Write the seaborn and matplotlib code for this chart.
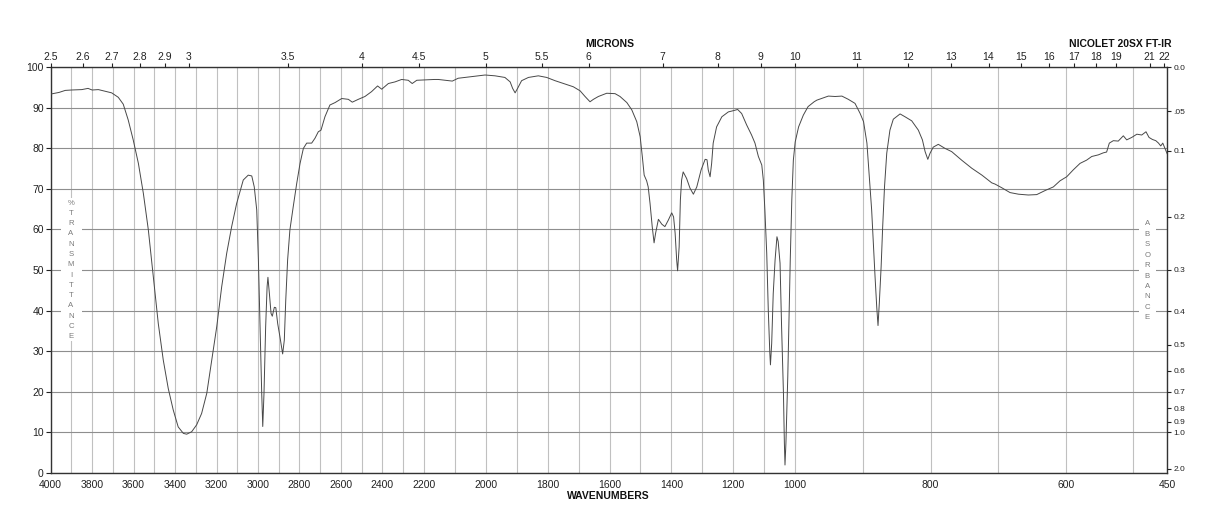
import numpy as np
import pandas as pd
import matplotlib
matplotlib.use("Agg")
import matplotlib.pyplot as plt
from matplotlib.ticker import FixedLocator
from matplotlib.patches import Rectangle
import seaborn as sns

# ---------------- data ----------------
wavenumbers = [
    4000, 3960, 3930, 3900, 3850, 3820, 3800, 3770, 3746, 3706, 3674, 3650, 3626, 3602,
    3577, 3553, 3529, 3505, 3481, 3457, 3433, 3409, 3385, 3360, 3344, 3320, 3296, 3272,
    3247, 3223, 3199, 3175, 3151, 3127, 3103, 3071, 3047, 3030, 3018, 3006, 2998, 2990,
    2982, 2977, 2971, 2963, 2956, 2952, 2945, 2937, 2931, 2921, 2914, 2905, 2894, 2881,
    2873, 2866, 2857, 2846, 2830, 2813, 2797, 2781, 2765, 2741, 2725, 2709, 2696, 2677,
    2653, 2628, 2596, 2564, 2545, 2516, 2484, 2452, 2423, 2403, 2371, 2339, 2307, 2275,
    2256, 2234, 2196, 2166, 2153, 2108, 2089, 2045, 2002, 1970, 1938, 1921, 1913, 1905,
    1897, 1884, 1862, 1830, 1803, 1776, 1744, 1717, 1695, 1679, 1663, 1652, 1636, 1609,
    1582, 1566, 1544, 1528, 1512, 1501, 1494, 1488, 1480, 1475, 1469, 1462, 1456, 1451,
    1442, 1431, 1421, 1410, 1399, 1393, 1388, 1383, 1380, 1375, 1371, 1367, 1362, 1351,
    1340, 1329, 1318, 1304, 1291, 1285, 1281, 1275, 1270, 1265, 1254, 1237, 1216, 1200,
    1186, 1173, 1157, 1141, 1130, 1119, 1108, 1103, 1098, 1092, 1087, 1082, 1080, 1076,
    1071, 1065, 1059, 1055, 1049, 1044, 1038, 1035, 1033, 1030, 1024, 1020, 1016, 1011,
    1006, 1000, 995, 988, 981, 972, 968, 951, 941, 931, 921.5, 911.6, 904, 899, 894,
    890.5, 887, 884.5, 882, 879.5, 877.6, 875.7, 873, 870.7, 868, 864.7, 860, 855, 845,
    837.7, 827.8, 818, 812, 808, 804, 800.7, 796, 788.5, 778.6, 768.7, 754, 739, 724,
    709.5, 704.7, 694.8, 682.5, 670, 655.4, 643, 630.7, 618.4, 608.6, 598.7, 589, 579,
    569.3, 561.7, 552, 544.6, 539.7, 535.7, 529.8, 522.5, 515, 510, 502.6, 495, 487.8,
    481.5, 477, 472, 467, 463, 459.7, 456.7, 454.2, 450,
]
transmittance = [
    93.4, 93.8, 94.3, 94.4, 94.5, 94.8, 94.4, 94.5, 94.2, 93.7, 92.6, 90.9, 87.0, 82.1,
    76.3, 68.9, 59.9, 48.4, 36.8, 27.8, 20.8, 15.5, 11.3, 9.7, 9.5, 10.1, 11.8, 14.6,
    19.6, 27.8, 36.0, 45.9, 54.1, 60.7, 66.4, 72.2, 73.4, 73.2, 70.5, 64.8, 52.5, 36.0,
    19.6, 11.4, 19.6, 36.0, 45.9, 48.2, 44.2, 39.3, 38.6, 40.8, 40.7, 36.8, 33.5, 29.3,
    32.7, 42.6, 52.5, 59.9, 65.6, 71.4, 76.3, 80.0, 81.3, 81.3, 82.5, 84.1, 84.5, 87.8,
    90.7, 91.3, 92.3, 92.1, 91.4, 92.1, 92.8, 94.0, 95.4, 94.6, 96.0, 96.4, 97.0, 96.8,
    96.0, 96.8, 96.9, 97.0, 97.0, 96.6, 97.3, 97.7, 98.1, 97.9, 97.5, 96.4, 94.8, 93.7,
    94.8, 96.7, 97.5, 97.9, 97.5, 96.7, 95.9, 95.2, 94.2, 92.8, 91.5, 92.1, 92.8, 93.6,
    93.5, 92.8, 91.3, 89.5, 86.6, 82.9, 78.0, 73.4, 72.0, 70.5, 66.4, 60.7, 56.7, 59.1,
    62.5, 61.3, 60.7, 62.3, 64.1, 63.1, 59.1, 52.5, 49.8, 55.7, 67.3, 72.2, 74.2, 72.6,
    70.2, 68.7, 70.5, 74.7, 77.3, 77.2, 74.7, 73.0, 76.3, 81.3, 85.3, 87.8, 89.0, 89.3,
    89.6, 88.6, 85.8, 83.3, 81.3, 78.0, 75.9, 72.2, 64.8, 54.1, 40.1, 29.5, 26.6, 31.9,
    44.2, 52.5, 58.2, 57.0, 51.7, 36.0, 19.6, 7.3, 1.9, 7.3, 23.7, 37.7, 52.5, 67.3,
    77.1, 81.6, 85.3, 88.2, 90.3, 91.5, 91.9, 92.9, 92.8, 92.9, 92.1, 91.1, 88.6, 86.6, 81.3,
    73.0, 64.8, 56.6, 48.4, 40.9, 36.3, 41.8, 50.8, 60.7, 70.5, 78.8, 84.5, 87.2, 88.5,
    87.8, 86.8, 84.5, 82.1, 79.2, 77.3, 78.8, 80.3, 81.0, 80.0, 79.2, 77.1, 75.1, 73.4,
    71.5, 71.2, 70.3, 69.1, 68.7, 68.5, 68.6, 69.6, 70.5, 72.0, 73.0, 74.7, 76.3,
    77.1, 78.0, 78.4, 78.9, 79.1, 81.3, 81.9, 81.8, 83.1, 82.1, 82.7, 83.5, 83.3,
    84.1, 82.7, 82.2, 81.9, 81.3, 80.6, 81.3, 80.3, 78.6,
]

wavenumber_ticks = [4000, 3800, 3600, 3400, 3200, 3000, 2800, 2600, 2400, 2200,
                    2000, 1800, 1600, 1400, 1200, 1000, 800, 600, 450]
micron_labels = ["2.5", "2.6", "2.7", "2.8", "2.9", "3", "3.5", "4", "4.5", "5", "5.5",
                 "6", "7", "8", "9", "10", "11", "12", "13", "14", "15", "16", "17",
                 "18", "19", "21", "22"]
percent_ticks = [0, 10, 20, 30, 40, 50, 60, 70, 80, 90, 100]
absorbance_values = [0.0, 0.05, 0.1, 0.2, 0.3, 0.4, 0.5, 0.6, 0.7, 0.8, 0.9, 1.0, 2.0]
absorbance_labels = ["0.0", ".05", "0.1", "0.2", "0.3", "0.4", "0.5", "0.6", "0.7",
                     "0.8", "0.9", "1.0", "2.0"]
left_title = "%TRANSMITTANCE"
right_title = "ABSORBANCE"

# ---------------- piecewise-linear wavenumber scale ----------------
_KW = np.array([450.0, 1000.0, 2200.0, 4000.0])
_KP = np.array([-1116.6, -744.5, -373.1, 0.0])


def _pw(x, xp, fp):
    x = np.asarray(x, dtype=float)
    y = np.interp(x, xp, fp)
    y = np.where(x < xp[0], fp[0] + (x - xp[0]) * (fp[1] - fp[0]) / (xp[1] - xp[0]), y)
    y = np.where(x > xp[-1], fp[-1] + (x - xp[-1]) * (fp[-1] - fp[-2]) / (xp[-1] - xp[-2]), y)
    return y


def fwd(w):
    return _pw(w, _KW, _KP)


def inv(p):
    return _pw(p, _KP, _KW)


# ---------------- figure ----------------
sns.set_style("ticks")
plt.rcParams["font.family"] = ["Liberation Sans", "DejaVu Sans"]

fig = plt.figure(figsize=(12.18, 5.28), dpi=100)
ax = fig.add_axes([0.04163, 0.10473, 0.91675, 0.76780])

df = pd.DataFrame({"wavenumber": wavenumbers, "transmittance": transmittance})
sns.lineplot(data=df, x="wavenumber", y="transmittance", ax=ax, sort=False,
             estimator=None, color="#484848", linewidth=0.7, zorder=3)

ax.set_xscale("function", functions=(fwd, inv))
ax.set_xlim(4000, 450)
ax.set_ylim(0, 100)
ax.set_xlabel("")
ax.set_ylabel("")

ax.xaxis.set_major_locator(FixedLocator(wavenumber_ticks))
ax.xaxis.set_minor_locator(FixedLocator(list(range(500, 4001, 100))))
ax.set_xticklabels([str(t) for t in wavenumber_ticks])
ax.set_yticks(percent_ticks)
ax.set_yticklabels([str(t) for t in percent_ticks])
ax.tick_params(axis="x", which="both", length=0, labelsize=7.5, pad=5, colors="#222222")
ax.tick_params(axis="y", which="major", length=3.5, width=0.8, labelsize=7.5, pad=1.5,
               direction="out", colors="#222222")
ax.set_axisbelow(True)
ax.grid(True, axis="x", which="both", color="#c0c0c0", linewidth=0.8)
ax.grid(True, axis="y", which="major", color="#8e8e8e", linewidth=0.8)
for s in ax.spines.values():
    s.set_visible(True)
    s.set_color("#333333")
    s.set_linewidth(1.0)

# vertical letter labels with white backing
ax.add_patch(Rectangle((0.00896, 0.3249), 0.0191, 0.3527, transform=ax.transAxes,
                       facecolor="white", edgecolor="none", zorder=1))
ax.add_patch(Rectangle((0.9747, 0.3717), 0.0152, 0.2516, transform=ax.transAxes,
                       facecolor="white", edgecolor="none", zorder=1))
for i, ch in enumerate(left_title):
    ax.text(0.01818, 0.6648 - i * 0.02531, ch, transform=ax.transAxes, ha="center",
            va="center", fontsize=5.6, color="#7a7a7a", zorder=4)
for i, ch in enumerate(right_title):
    ax.text(0.9821, 0.6135 - i * 0.02568, ch, transform=ax.transAxes, ha="center",
            va="center", fontsize=5.6, color="#7a7a7a", zorder=4)

# right absorbance axis
axr = ax.twinx()
axr.set_ylim(0, 100)
axr.set_yticks([100 * 10 ** (-a) for a in absorbance_values])
axr.set_yticklabels(absorbance_labels)
axr.tick_params(axis="y", length=3, width=0.8, labelsize=6, pad=1.5, direction="out",
                colors="#222222")
axr.grid(False)
for s in axr.spines.values():
    s.set_visible(False)

# top micron axis
axt = ax.twiny()
axt.set_xscale("function", functions=(fwd, inv))
axt.set_xlim(4000, 450)
axt.set_xticks([10000.0 / float(m) for m in micron_labels])
axt.set_xticklabels(micron_labels)
axt.tick_params(axis="x", length=3, width=0.8, labelsize=7.5, pad=1.0, direction="out",
                colors="#222222")
axt.xaxis.set_minor_locator(FixedLocator([]))
axt.grid(False)
for s in axt.spines.values():
    s.set_visible(False)

fig.text(0.5008, 0.9167, "MICRONS", ha="center", va="center", fontsize=7.5,
         fontweight="bold", color="#111111")
fig.text(0.9615, 0.9167, "NICOLET 20SX FT-IR", ha="right", va="center", fontsize=7.5,
         fontweight="bold", color="#111111")
fig.text(0.4992, 0.0606, "WAVENUMBERS", ha="center", va="center", fontsize=7.5,
         fontweight="bold", color="#111111")

fig.savefig("out.png", dpi=100)
